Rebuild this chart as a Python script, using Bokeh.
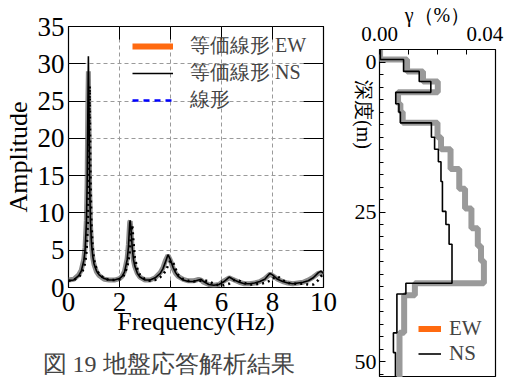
import math
from jinja2 import Template
from bokeh.plotting import figure
from bokeh.models import (Range1d, LinearAxis, FixedTicker, SingleIntervalTicker,
                          Legend, LegendItem, Title)
from bokeh.core.templates import FILE
from bokeh.embed import file_html
from bokeh.resources import INLINE

# ---------------- data: amplitude spectra ----------------
freq = [0.0, 0.2, 0.4, 0.5, 0.6, 0.65, 0.7, 0.73, 0.76, 0.78, 0.8, 0.83, 0.86, 0.9, 0.95,
        1.0, 1.1, 1.2, 1.4, 1.6, 1.8, 2.0, 2.1, 2.2, 2.3, 2.35, 2.4, 2.42, 2.45, 2.5,
        2.55, 2.6, 2.7, 2.8, 3.0, 3.2, 3.4, 3.6, 3.7, 3.8, 3.9, 4.0, 4.1, 4.2, 4.3,
        4.5, 4.7, 4.9, 5.1, 5.2, 5.3, 5.5, 5.7, 5.9, 6.1, 6.3, 6.5, 6.7, 6.9, 7.1,
        7.3, 7.5, 7.7, 7.9, 8.0, 8.2, 8.4, 8.6, 8.8, 9.0, 9.2, 9.4, 9.6, 9.8, 9.9, 10.0]

amp_ew = [1.0, 1.1, 1.7, 2.3, 3.8, 5.4, 9.0, 14.0, 25.0, 29.0, 23.0, 13.0, 8.5, 5.8, 4.0,
          3.1, 2.1, 1.6, 1.1, 1.0, 1.0, 1.2, 1.5, 2.2, 3.9, 5.8, 8.8, 8.9, 7.6, 5.1,
          3.6, 2.8, 1.9, 1.4, 1.0, 1.0, 1.3, 2.0, 2.6, 3.6, 4.3, 3.6, 2.6, 1.9, 1.5,
          1.1, 0.9, 0.9, 1.1, 1.0, 0.7, 0.4, 0.3, 0.4, 0.9, 1.3, 1.0, 0.7, 0.5, 0.5,
          0.6, 0.8, 1.2, 1.8, 1.6, 1.1, 0.8, 0.6, 0.5, 0.6, 0.7, 1.0, 1.4, 1.9, 2.0, 1.8]

amp_ns = [0.9, 1.0, 1.6, 2.2, 3.6, 5.0, 8.5, 13.5, 24.0, 31.0, 25.0, 14.0, 9.0, 6.0, 4.2,
          3.2, 2.2, 1.7, 1.2, 1.0, 1.0, 1.2, 1.5, 2.1, 3.7, 5.4, 8.6, 9.0, 7.9, 5.3,
          3.7, 2.9, 1.9, 1.4, 1.0, 1.0, 1.3, 1.9, 2.5, 3.4, 4.4, 3.7, 2.7, 2.0, 1.5,
          1.0, 0.8, 0.8, 1.0, 1.1, 0.8, 0.4, 0.3, 0.4, 0.8, 1.4, 1.0, 0.7, 0.5, 0.5,
          0.6, 0.8, 1.1, 1.9, 1.7, 1.1, 0.8, 0.6, 0.5, 0.6, 0.7, 0.9, 1.3, 2.0, 2.2, 1.9]

amp_lin = [0.9, 1.0, 1.4, 1.8, 2.6, 3.3, 4.6, 6.2, 9.0, 13.0, 20.0, 27.0, 15.0, 8.5, 5.2,
           3.7, 2.4, 1.8, 1.2, 1.0, 1.0, 1.1, 1.3, 1.8, 2.8, 3.5, 4.8, 5.6, 7.2, 8.4,
           6.0, 4.0, 2.5, 1.7, 1.1, 0.9, 1.0, 1.4, 1.7, 2.2, 2.9, 3.6, 3.4, 2.5, 1.7,
           1.1, 0.9, 0.8, 0.9, 0.9, 1.0, 0.8, 0.5, 0.3, 0.3, 0.5, 1.0, 0.9, 0.6, 0.4,
           0.4, 0.5, 0.6, 0.9, 1.2, 1.5, 1.0, 0.6, 0.5, 0.5, 0.5, 0.4, 0.4, 1.0, 1.5, 1.8]

freq_ticks = [0, 2, 4, 6, 8, 10]
amp_ticks = [0, 5, 10, 15, 20, 25, 30, 35]

legend_labels = ["等価線形 EW", "等価線形 NS", "線形"]
caption = "図 19 地盤応答解析結果"

# ---------------- data: shear strain profiles ----------------
# top depth of each layer (m) and strain (%) in that layer
layer_top_ew = [-3.0, -0.5, 1.5, 3.2, 5.0, 6.9, 8.3, 10.1, 12.5, 14.5, 17.8, 21.1, 24.4,
                27.7, 30.7, 33.2, 36.9, 38.9, 45.2]
gamma_ew = [0.0002, 0.0095, 0.0150, 0.0201, 0.0064, 0.0072, 0.0080, 0.0200, 0.0212,
            0.0245, 0.0275, 0.0295, 0.0317, 0.0339, 0.0350, 0.0360, 0.0122, 0.0085, 0.0069]

layer_top_ns = [-3.0, -0.5, 1.5, 3.2, 5.0, 6.9, 8.3, 10.1, 12.5, 14.5, 16.6, 19.9, 24.9,
                27.1, 30.4, 36.9, 38.7, 45.2, 48.5]
gamma_ns = [0.0003, 0.0083, 0.0137, 0.0177, 0.0056, 0.0067, 0.0072, 0.0179, 0.0190,
            0.0203, 0.0212, 0.0217, 0.0229, 0.0240, 0.0250, 0.0091, 0.0060, 0.0048, 0.0055]
profile_bottom = 55.0

gamma_ticks = [0.0, 0.01, 0.02, 0.03, 0.04]
gamma_labels = {0: "0.00", 0.04: "0.04"}
depth_title = "深度(m)"
depth_title_end = 14.45   # depth at which the rotated depth title ends

SERIF = "Liberation Serif"

# ================= left figure =================
# (canvas a few px taller than the window so the caption sits as low as in the original)
p = figure(width=338, height=387, output_backend="svg", toolbar_location=None,
           x_range=Range1d(0, 10), y_range=Range1d(0, 35),
           min_border_left=58, min_border_right=15, min_border_top=26, min_border_bottom=99)
p.title.visible = False
p.outline_line_color = "black"
p.outline_line_width = 1.2

xt = FixedTicker(ticks=freq_ticks)
yt = FixedTicker(ticks=amp_ticks)
for ax, t in ((p.xaxis[0], xt), (p.yaxis[0], yt)):
    ax.ticker = t
    ax.axis_line_color = None
    ax.major_tick_out = 0
    ax.major_label_text_font = SERIF
    ax.major_label_text_font_size = "27px"
    ax.major_label_text_color = "black"
    ax.axis_label_text_font = SERIF
    ax.axis_label_text_font_size = "26px"
    ax.axis_label_text_font_style = "normal"
    ax.axis_label_text_color = "black"
    ax.major_tick_line_color = "black"
p.xaxis.major_tick_in = 7
p.yaxis.major_tick_in = 17
p.xaxis.axis_label = "Frequency(Hz)"
p.yaxis.axis_label = "Amplitude"
p.xaxis.major_label_standoff = 5
p.yaxis.major_label_standoff = 4
p.xaxis.axis_label_standoff = -7
p.yaxis.axis_label_standoff = 2

p.xgrid.ticker = xt
p.ygrid.ticker = yt
p.grid.grid_line_color = "#9a9a9a"
p.grid.grid_line_dash = "4 3"
p.grid.grid_line_width = 1

# tick-only axes on the right and top
ax_r = LinearAxis(ticker=yt, major_tick_in=20, major_tick_out=0, axis_line_color=None,
                  major_label_text_color=None, major_label_text_font_size="1px",
                  major_label_standoff=0)
ax_t = LinearAxis(ticker=xt, major_tick_in=13, major_tick_out=0, axis_line_color=None,
                  major_label_text_color=None, major_label_text_font_size="1px",
                  major_label_standoff=0)
p.add_layout(ax_r, "right")
p.add_layout(ax_t, "above")

p.line(freq, amp_ew, line_color="#8c8c8c", line_width=5)
r_ns = p.line(freq, amp_ns, line_color="black", line_width=1.6)
p.line(freq, amp_lin, line_color="black", line_width=2.5, line_dash="2 4")

# legend swatches in the colours of the reference legend (hidden renderers)
d_ew = p.line(freq, amp_ew, line_color="#ff6a10", line_width=6, visible=False)
d_lin = p.line(freq, amp_lin, line_color="#0000ff", line_width=2.5, line_dash="6 5",
               visible=False)
leg = Legend(items=[LegendItem(label=legend_labels[0], renderers=[d_ew]),
                    LegendItem(label=legend_labels[1], renderers=[r_ns]),
                    LegendItem(label=legend_labels[2], renderers=[d_lin])],
             location=(64, 174), padding=0, margin=0, spacing=-11,
             glyph_width=41, glyph_height=20, label_height=20, label_standoff=17,
             border_line_color=None, background_fill_alpha=0, inactive_fill_alpha=0,
             label_text_font=SERIF, label_text_font_size="20px")
p.add_layout(leg)

p.add_layout(Title(text=caption, align="left", offset=-26, standoff=21,
                   text_font=SERIF, text_font_size="24px", text_font_style="normal"),
             "below")

# ================= right figure =================
q = figure(width=169, height=377, output_backend="svg", toolbar_location=None,
           x_range=Range1d(0, 0.04), y_range=Range1d(52.66, -2.16),
           x_axis_location="above", y_axis_location="left",
           min_border_left=37, min_border_right=12, min_border_top=47, min_border_bottom=0)
q.title.visible = False
q.outline_line_color = "black"
q.outline_line_width = 1.2
q.grid.visible = False

# top: tick marks only
qx = q.xaxis[0]
qx.ticker = FixedTicker(ticks=gamma_ticks)
qx.axis_line_color = None
qx.major_tick_in = 5
qx.major_tick_out = 0
qx.major_label_standoff = 0
qx.major_label_text_color = None
qx.major_label_text_font_size = "1px"

# top: the two end labels, the right one pulled inside the page edge
q.extra_x_ranges = {"lab": Range1d(0, 0.04 * 120 / 109)}
top_lab = LinearAxis(x_range_name="lab", ticker=FixedTicker(ticks=[0, 0.04]),
                     major_label_overrides=gamma_labels,
                     axis_line_color=None, major_tick_line_color=None,
                     minor_tick_line_color=None, major_tick_in=0, major_tick_out=0,
                     major_label_standoff=9, major_label_text_font=SERIF,
                     major_label_text_font_size="21px", major_label_text_color="black",
                     axis_label="γ（%）", axis_label_standoff=-2,
                     axis_label_text_font=SERIF, axis_label_text_font_size="20px",
                     axis_label_text_font_style="normal", axis_label_text_color="black")
q.add_layout(top_lab, "above")

qy = q.yaxis[0]
qy.ticker = SingleIntervalTicker(interval=25, num_minor_ticks=12)
qy.axis_line_color = None
qy.major_tick_in = 6
qy.major_tick_out = 0
qy.minor_tick_in = 4
qy.minor_tick_out = 0
qy.major_label_standoff = 3
qy.major_label_text_font = SERIF
qy.major_label_text_font_size = "22px"
qy.major_label_text_color = "black"

# left: depth title, upper part of the axis, reading downwards
left_lab = LinearAxis(ticker=FixedTicker(ticks=[depth_title_end]),
                      major_label_overrides={depth_title_end: depth_title},
                      major_label_orientation=-math.pi / 2,
                      axis_line_color=None, major_tick_line_color=None,
                      minor_tick_line_color=None, major_tick_in=0, major_tick_out=0,
                      major_label_standoff=-12, major_label_text_font=SERIF,
                      major_label_text_font_size="20px", major_label_text_color="black")
q.add_layout(left_lab, "left")


def profile(tops, gammas, bottom):
    xs, ys = [], []
    for i, g in enumerate(gammas):
        top = tops[i]
        bot = tops[i + 1] if i + 1 < len(tops) else bottom
        xs += [g, g]
        ys += [top, bot]
    return xs, ys


xe, ye = profile(layer_top_ew, gamma_ew, profile_bottom)
xn, yn = profile(layer_top_ns, gamma_ns, profile_bottom)
q.line(xe, ye, line_color="#9a9a9a", line_width=6)
rn = q.line(xn, yn, line_color="black", line_width=1.6)
d2 = q.line(xe, ye, line_color="#ff6a10", line_width=6, visible=False)

leg2 = Legend(items=[LegendItem(label="EW", renderers=[d2]),
                     LegendItem(label="NS", renderers=[rn])],
              location=(39, 11), padding=0, margin=0, spacing=-16,
              glyph_width=23, glyph_height=19, label_height=19, label_standoff=8,
              border_line_color=None, background_fill_alpha=0, inactive_fill_alpha=0,
              label_text_font=SERIF, label_text_font_size="21px")
q.add_layout(leg2)

page = Template(
    "{% extends base %}"
    "{% block postamble %}<style>"
    "html,body{margin:0 !important;padding:0 !important;}"
    "body{display:flex !important;flex-direction:row;"
    "align-items:flex-start;overflow:hidden;}"
    "body>div{flex:none;}"
    "</style>{% endblock %}"
)
html = file_html([p, q], INLINE, template=page, template_variables={"base": FILE})
open("out.html", "w").write(html)
